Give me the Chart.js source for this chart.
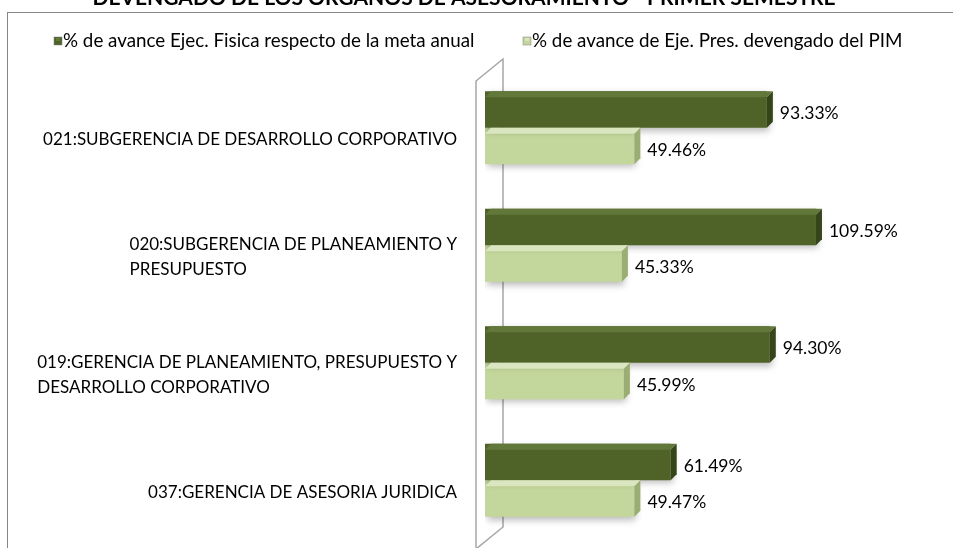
<!DOCTYPE html>
<html>
<head>
<meta charset="utf-8">
<script src="https://cdn.jsdelivr.net/npm/chart.js@4.4.1/dist/chart.umd.min.js"></script>
<style>
  html, body { margin: 0; padding: 0; background: #fff; }
  #wrap { width: 953px; height: 548px; position: relative; }
</style>
</head>
<body>
<div id="wrap"><canvas id="myChart"></canvas></div>
<script>
// chart data
const titleText = 'DEVENGADO DE LOS ORGANOS DE ASESORAMIENTO - PRIMER SEMESTRE';
const categories = [
  ['021:SUBGERENCIA DE DESARROLLO CORPORATIVO'],
  ['020:SUBGERENCIA DE PLANEAMIENTO Y', 'PRESUPUESTO'],
  ['019:GERENCIA DE PLANEAMIENTO, PRESUPUESTO Y', 'DESARROLLO CORPORATIVO'],
  ['037:GERENCIA DE ASESORIA JURIDICA']
];
const seriesNames = [
  '% de avance Ejec. Fisica respecto de la meta anual',
  '% de avance de Eje. Pres. devengado del PIM'
];
const avanceFisica = [93.33, 109.59, 94.30, 61.49];
const avancePresupuesto = [49.46, 45.33, 45.99, 49.47];

const FONT = 'Lato, "Liberation Sans", sans-serif';
const ctx = document.getElementById('myChart');

// colours for the front, top and side faces of the 3D bars
const faces = [
  { front: '#4f6228', top: '#62783a', side: '#36441a' },
  { front: '#c3d69b', top: '#d9e6bf', side: '#9aad72' }
];

// frame, title, back wall and custom legend
const decorPlugin = {
  id: 'decor',
  beforeDatasetsDraw(chart) {
    const c = chart.ctx;
    const a = chart.chartArea;
    c.save();
    // chart frame
    c.strokeStyle = '#868686';
    c.lineWidth = 1;
    c.strokeRect(7.5, 12.5, 1000, 600);
    // title (cut at top in the original)
    c.fillStyle = '#000';
    c.font = 'bold 21px ' + FONT;
    c.textAlign = 'center';
    c.textBaseline = 'alphabetic';
    c.fillText(titleText, 464, 4.5);
    // back wall
    const l = a.left - 9, r = a.left + 18;
    c.beginPath();
    c.moveTo(l, a.top + 12);
    c.lineTo(r, a.top - 10);
    c.lineTo(r, a.bottom - 12);
    c.lineTo(l, a.bottom + 10);
    c.closePath();
    c.fillStyle = '#fff';
    c.fill();
    c.strokeStyle = '#a6a6a6';
    c.lineWidth = 1.5;
    c.stroke();
    // legend
    c.font = '18.8px ' + FONT;
    c.textAlign = 'left';
    c.textBaseline = 'middle';
    const legendX = [54, 523];
    chart.data.datasets.forEach(function(ds, i) {
      const x = legendX[i], y = 41;
      c.fillStyle = faces[i].front;
      c.fillRect(x, y - 4, 8, 8);
      c.fillStyle = faces[i].top;
      c.fillRect(x + 2, y - 3, 4, 3);
      c.strokeStyle = '#808080';
      c.lineWidth = 0.5;
      c.strokeRect(x, y - 4, 8, 8);
      c.fillStyle = '#000';
      c.fillText(ds.label, x + 9, y);
    });
    // shadow for the bars
    c.restore();
    c.save();
    c.shadowColor = 'rgba(0,0,0,0.28)';
    c.shadowBlur = 7;
    c.shadowOffsetX = 2;
    c.shadowOffsetY = 3;
  },
  afterDatasetsDraw(chart) {
    const c = chart.ctx;
    c.restore();
    c.save();
    const d = 6;
    chart.data.datasets.forEach(function(ds, i) {
      const meta = chart.getDatasetMeta(i);
      meta.data.forEach(function(bar, j) {
        const x0 = bar.base, x1 = bar.x;
        const top = bar.y - bar.height / 2, bottom = bar.y + bar.height / 2;
        // top face
        c.fillStyle = faces[i].top;
        c.beginPath();
        c.moveTo(x0, top + d);
        c.lineTo(x0 + d, top);
        c.lineTo(x1 + d, top);
        c.lineTo(x1, top + d);
        c.closePath();
        c.fill();
        // side face
        c.fillStyle = faces[i].side;
        c.beginPath();
        c.moveTo(x1, top + d);
        c.lineTo(x1 + d, top);
        c.lineTo(x1 + d, bottom - d);
        c.lineTo(x1, bottom);
        c.closePath();
        c.fill();
        // value label
        c.fillStyle = '#000';
        c.font = '17.5px ' + FONT;
        c.textAlign = 'left';
        c.textBaseline = 'middle';
        c.fillText(ds.data[j].toFixed(2) + '%', x1 + 13, bar.y + 4);
      });
    });
    // category labels, block right-aligned, lines left-aligned
    const yScale = chart.scales.y;
    c.font = '17px ' + FONT;
    c.textBaseline = 'middle';
    c.textAlign = 'left';
    const lineH = 25;
    chart.data.labels.forEach(function(lines, k) {
      const cy = yScale.getPixelForValue(k) + 12;
      let w = 0;
      lines.forEach(function(t) { w = Math.max(w, c.measureText(t).width); });
      const x = 457 - w;
      lines.forEach(function(t, n) {
        c.fillText(t, x, cy + (n - (lines.length - 1) / 2) * lineH);
      });
    });
    c.restore();
  }
};

new Chart(ctx, {
  type: 'bar',
  data: {
    labels: categories,
    datasets: [{
      label: seriesNames[0],
      data: avanceFisica,
      backgroundColor: faces[0].front,
      borderWidth: 0
    }, {
      label: seriesNames[1],
      data: avancePresupuesto,
      backgroundColor: faces[1].front,
      borderWidth: 0
    }]
  },
  options: {
    indexAxis: 'y',
    animation: false,
    responsive: true,
    maintainAspectRatio: false,
    events: [],
    categoryPercentage: 0.62,
    barPercentage: 1,
    layout: {
      padding: { left: 485, right: 15, top: 69, bottom: 9 }
    },
    plugins: {
      legend: { display: false },
      tooltip: { enabled: false }
    },
    scales: {
      x: { display: false, min: 0, max: 150 },
      y: { display: false }
    }
  },
  plugins: [decorPlugin]
});
</script>
</body>
</html>
